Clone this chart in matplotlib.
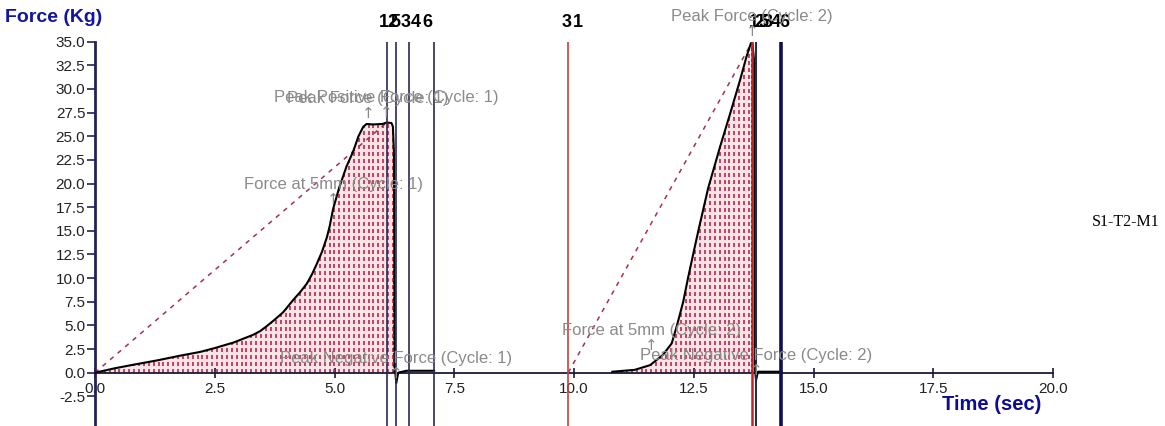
import matplotlib.pyplot as plt
import numpy as np

plt.rcParams['font.family'] = ['Liberation Sans', 'DejaVu Sans']

# force trace, cycle 1 (time sec, force kg)
c1_time = [0.0, 0.4, 0.8, 1.3, 1.77, 2.2, 2.5, 2.9, 3.3, 3.45, 3.58, 3.75, 3.93,
           4.14, 4.28, 4.42, 4.53, 4.63, 4.74, 4.84, 4.9, 4.97, 5.1, 5.25, 5.39,
           5.5, 5.6, 5.67, 5.8, 6.0, 6.09, 6.19, 6.22, 6.24, 6.26, 6.29, 6.33,
           6.5, 7.08]
c1_force = [0.0, 0.45, 0.84, 1.3, 1.79, 2.2, 2.6, 3.2, 4.0, 4.4, 4.9, 5.6, 6.4,
            7.7, 8.5, 9.4, 10.4, 11.5, 12.8, 14.3, 15.5, 17.3, 19.6, 21.8, 23.4,
            25.0, 26.0, 26.3, 26.25, 26.3, 26.45, 26.4, 26.0, 23.4, 0.5, -1.1, 0.0,
            0.2, 0.2]

# force trace, cycle 2
c2_time = [10.8, 11.27, 11.59, 11.86, 12.04, 12.15, 12.28, 12.38, 12.5, 12.6,
           12.8, 13.05, 13.26, 13.47, 13.6, 13.69, 13.72, 13.76, 13.78, 13.8,
           13.84, 14.33]
c2_force = [0.1, 0.3, 0.8, 1.9, 3.1, 5.0, 7.5, 10.0, 12.8, 15.1,
            19.5, 23.9, 27.4, 31.0, 33.4, 34.8, 35.0, 33.0, 0.3, -0.8,
            0.1, 0.1]

# work area limits for each cycle (start, end)
area_start = [0.0, 9.88]
area_end = [6.25, 13.72]

# start and peak points for the slope lines
slope_start = [(0.0, 0.0), (9.88, 0.0)]
slope_peak = [(6.09, 26.45), (13.72, 35.0)]

# event markers
marker_t = [6.09, 6.29, 6.56, 7.08, 9.88, 13.71, 13.80, 14.33]
marker_colors = ['#2a2a50', '#2a2a50', '#2a2a50', '#2a2a50',
                 '#c84040', '#c42424', '#22225c', '#101050']
marker_widths = [1.2, 1.2, 1.2, 1.2, 1.2, 1.8, 1.4, 2.6]
marker_labels = ['1', '2', '5', '3', '4', '6', '3', '1', '1', '2', '5', '3', '4', '6']
marker_label_t = [6.04, 6.20, 6.28, 6.48, 6.70, 6.94, 9.85, 10.08,
                  13.75, 13.86, 13.95, 14.05, 14.22, 14.39]

# result annotations (text, time, force)
notes = [
    ('Peak Force (Cycle: 1)', 5.70, 26.3),
    ('Peak Positive Force (Cycle: 1)', 6.09, 26.45),
    ('Force at 5mm (Cycle: 1)', 4.97, 17.3),
    ('Peak Negative Force (Cycle: 1)', 6.29, -1.1),
    ('Peak Force (Cycle: 2)', 13.72, 35.0),
    ('Force at 5mm (Cycle: 2)', 11.62, 1.8),
    ('Peak Negative Force (Cycle: 2)', 13.80, -0.8),
]

x_ticks = np.arange(0, 20.01, 2.5)
y_ticks = np.arange(-2.5, 35.01, 2.5)

fig = plt.figure(figsize=(11.65, 4.26), dpi=100)
ax = fig.add_axes([95 / 1165, 0.0, 958 / 1165, (426 - 41.7) / 426])
ax.set_xlim(0, 20)
ax.set_ylim(-5.64, 35)

# dotted red fill under each cycle
for s, e, tt, ff in zip(area_start, area_end, [c1_time, c2_time], [c1_force, c2_force]):
    xs = np.arange(s, e, 0.102)
    top = np.interp(xs, tt, ff, left=0.0)
    top = np.clip(top, 0, None)
    ax.fill_between(xs, 0, top, color='#fbe4e8', lw=0, zorder=1)
    ax.vlines(xs, 0, top, colors='#b8284a', lw=1.2, linestyles=[(0, (2.4, 1.8))], zorder=2)
    ax.vlines([e], 0, np.interp(e, tt, ff), colors='#70204e', lw=1.6,
              linestyles=[(0, (1.5, 1.0))], zorder=2)

for (x0, y0), (x1, y1) in zip(slope_start, slope_peak):
    ax.plot([x0, x1], [y0, y1], color='#a83048', lw=1.1, dashes=(3, 3.5), zorder=3)

ax.plot(c1_time, c1_force, color='black', lw=1.5, zorder=4)
ax.plot(c2_time, c2_force, color='black', lw=1.5, zorder=4)

for t, c, w in zip(marker_t, marker_colors, marker_widths):
    ax.axvline(t, color=c, lw=w, zorder=5)

for lab, t in zip(marker_labels, marker_label_t):
    ax.annotate(lab, (t, 35), xytext=(0, 19), textcoords='offset pixels',
                ha='center', va='center', fontsize=13, fontweight='bold',
                color='black', annotation_clip=False)

for txt, t, f in notes:
    ax.annotate(txt, (t, f), xytext=(0, 25), textcoords='offset pixels',
                ha='center', va='center', fontsize=12, color='#8a8a8a',
                annotation_clip=False, zorder=6)
    ax.annotate('\u2191', (t, f), xytext=(0, 10), textcoords='offset pixels',
                ha='center', va='center', fontsize=11, color='#8a8a8a',
                family=['DejaVu Sans'], annotation_clip=False, zorder=6)

ax.spines['top'].set_visible(False)
ax.spines['right'].set_visible(False)
ax.spines['bottom'].set_position(('data', 0))
ax.spines['left'].set_color('#22225a')
ax.spines['left'].set_linewidth(2)
ax.spines['bottom'].set_color('#1a1a3a')
ax.spines['bottom'].set_linewidth(1.3)

ax.set_xticks(x_ticks)
ax.set_xticklabels(['%.1f' % v for v in x_ticks])
ax.set_yticks(y_ticks)
ax.set_yticklabels(['%.1f' % v for v in y_ticks])
ax.tick_params(axis='y', direction='out', length=6, width=1.2, color='#22225a',
               labelsize=11, labelcolor='#222222', pad=1)
ax.tick_params(axis='x', direction='inout', length=7, width=1.2, color='#1a1a3a',
               labelsize=11, labelcolor='#222222', pad=3)
ax.patch.set_visible(False)

fig.text(5 / 1165, 1 - 17 / 426, 'Force (Kg)', fontsize=14, fontweight='bold',
         color='#1414a0', ha='left', va='center')
fig.text(992 / 1165, 1 - 405 / 426, 'Time (sec)', fontsize=14.5, fontweight='bold',
         color='#0c0c96', ha='center', va='center')
fig.text(1126 / 1165, 1 - 222 / 426, 'S1-T2-M1', fontsize=11.5, family='Liberation Serif',
         color='black', ha='center', va='center')

fig.savefig('out.png', dpi=100)
